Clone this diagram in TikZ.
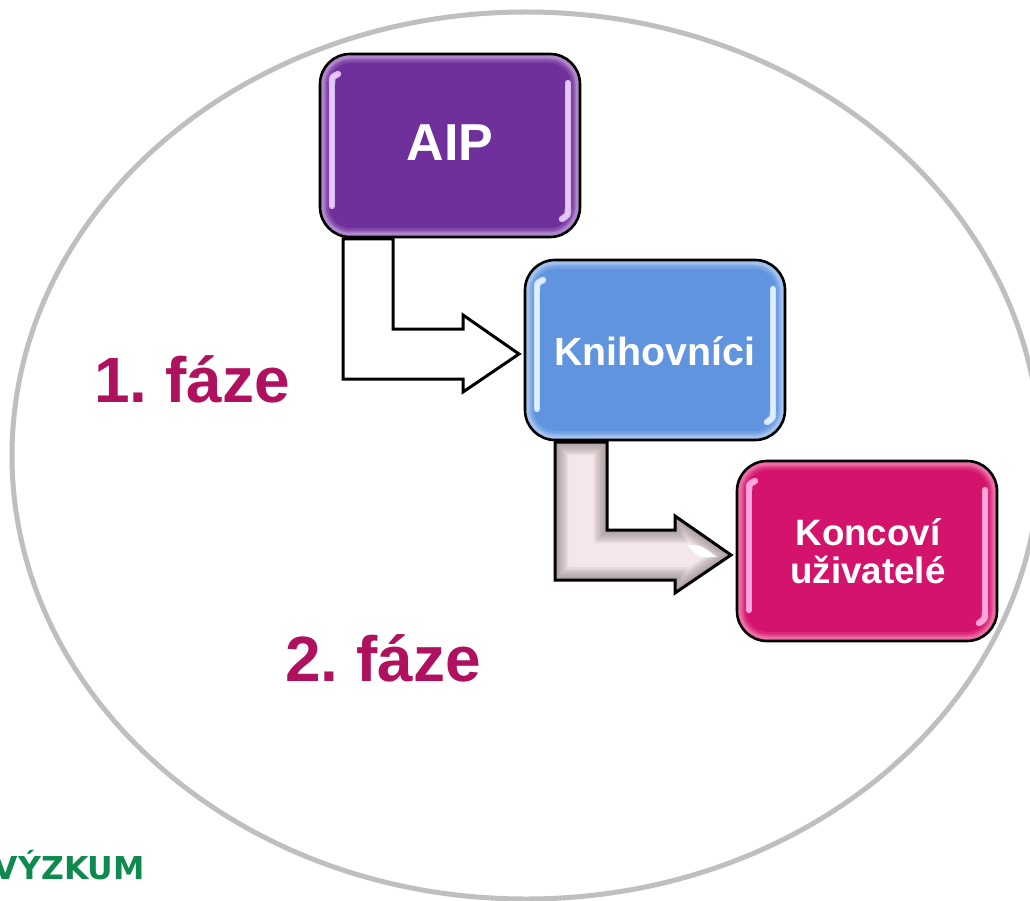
\documentclass[tikz,border=0pt]{standalone}
\usepackage{fontspec}
\setmainfont{Liberation Sans}
\newfontfamily\logofont{DejaVu Sans}
\usetikzlibrary{calc}
\definecolor{aipfill}{HTML}{70309B}
\definecolor{aiprim}{HTML}{C9A8E0}
\definecolor{aiphi}{HTML}{E6C8FA}
\definecolor{knifill}{HTML}{6194DE}
\definecolor{knirim}{HTML}{BCD4F5}
\definecolor{knihi}{HTML}{DDF0FF}
\definecolor{konfill}{HTML}{D4146C}
\definecolor{konrim}{HTML}{F58FBF}
\definecolor{konhi}{HTML}{FFA8E0}
\definecolor{phase}{HTML}{B0115F}
\definecolor{logogreen}{HTML}{0E8A4E}
\definecolor{ringgray}{HTML}{BFBFBF}
\definecolor{arrowpink}{HTML}{F5E6EA}
\tikzset{
  box/.style={rectangle, rounded corners=30pt, minimum width=260pt, minimum height=#1, outer sep=0pt, inner sep=0pt},
  phaselabel/.style={anchor=base west, inner sep=0pt, text=phase, font=\frenchspacing\fontsize{64}{64}\bfseries\selectfont},
  outline/.style={draw=black, line width=3pt, line join=miter},
  % outline of a bent block arrow, from the coordinates set by \arrowpoints
  bent/.style={insert path={(p1) -- (p2) -- (p2 |- e) -- (e) -- (ht) -- (tip) -- (hb) -- (sb) -- (p1 |- sb) -- cycle}}
}
% glossy rim, highlights and black outline of a box
\newcommand{\glossbox}[3]{%
  \begin{scope}
    \clip[rounded corners=30pt] (#1.north west) rectangle (#1.south east);
    \foreach \w/\o in {18/.18,13/.3,9/.5} {
      \draw[#2, opacity=\o, line width=\w pt, rounded corners=30pt] (#1.north west) rectangle (#1.south east);
    }
  \end{scope}
  \foreach \w/\c in {6.5/#3!55!#2,3.5/#3} {
    \draw[\c, line width=\w pt, line cap=round] ($(#1.north west)+(12,30)$) -- ($(#1.south west)+(12,-31)$);
    \draw[\c, line width=\w pt, line cap=round] ($(#1.north west)+(12,29)$) .. controls ($(#1.north west)+(12,23)$) .. ($(#1.north west)+(18,20)$);
    \draw[\c, line width=\w pt, line cap=round] ($(#1.north east)+(-12,29)$) -- ($(#1.south east)+(-12,-30)$);
    \draw[\c, line width=\w pt, line cap=round] ($(#1.south east)+(-12,-28)$) .. controls ($(#1.south east)+(-12,-22)$) .. ($(#1.south east)+(-18,-18)$);
  }
  \draw[black, line width=2.6pt, rounded corners=30pt] (#1.north west) rectangle (#1.south east);
}
% corner points of the bent arrow from box #1 to box #2
\newcommand{\arrowpoints}[4]{%
  \coordinate (p1) at ($(#1.south west)+(#3,2)$);
  \coordinate (p2) at ($(#1.south west)+(#4,2)$);
  \coordinate (e) at ($(#2.west)+(-62,-21)$);
  \coordinate (ht) at ($(#2.west)+(-62,-35)$);
  \coordinate (tip) at ($(#2.west)+(-6,4)$);
  \coordinate (hb) at ($(#2.west)+(-62,42)$);
  \coordinate (sb) at ($(#2.west)+(-62,29)$);
}
\begin{document}
\begin{tikzpicture}[x=1pt,y=-1pt]
\useasboundingbox (0,0) rectangle (1030,901);
\clip (0,0) rectangle (1030,901);
\fill[white] (0,0) rectangle (1030,901);
% enclosing ring
\draw[ringgray, line width=5pt] (526,455.5) ellipse [x radius=514, y radius=443.5];
% boxes
\node[box=183pt, fill=aipfill] (aip) at (450,145.5) {};
\node[box=180pt, fill=knifill] (kni) at (655,350) {};
\node[box=180pt, fill=konfill] (kon) at (867,551) {};
\glossbox{aip}{aiprim}{aiphi}
\glossbox{kni}{knirim}{knihi}
\glossbox{kon}{konrim}{konhi}
\node[text=white, inner sep=0pt, font=\fontsize{52}{52}\bfseries\selectfont] (aiptext) at (450,143) {AIP};
\node[text=white, inner sep=0pt, font=\fontsize{39.3}{39}\bfseries\selectfont] (knitext) at (655,351) {Knihovníci};
\node[text=white, inner sep=0pt, align=center, font=\fontsize{36.7}{38}\bfseries\selectfont] (kontext) at (868,551) {Koncoví\\uživatelé};
% arrows
\arrowpoints{aip}{kni}{23}{73}
\draw[outline, fill=white, bent];
\arrowpoints{kni}{kon}{30}{82}
\begin{scope}
  \clip[bent];
  \fill[arrowpink, bent];
  \foreach \w in {26,22,18,14,10,6} {
    \draw[black!50!arrowpink, line width=\w pt, opacity=.12, line join=miter, bent];
  }
  \fill[white] ($(kon.west)+(-50,-6)$) .. controls ($(kon.west)+(-36,-6)$) .. ($(kon.west)+(-20,6)$) .. controls ($(kon.west)+(-38,7)$) .. ($(kon.west)+(-50,-6)$) -- cycle;
\end{scope}
\draw[outline, bent];
% labels
\node[phaselabel] (phase1) at (94,402) {1. fáze};
\node[phaselabel] (phase2) at (285,681) {2. fáze};
\node[anchor=base east, inner sep=0pt, text=logogreen, font=\logofont\fontsize{31.5}{32}\bfseries\selectfont] (logo) at (145,879) {VÝZKUM};
\end{tikzpicture}
\end{document}
